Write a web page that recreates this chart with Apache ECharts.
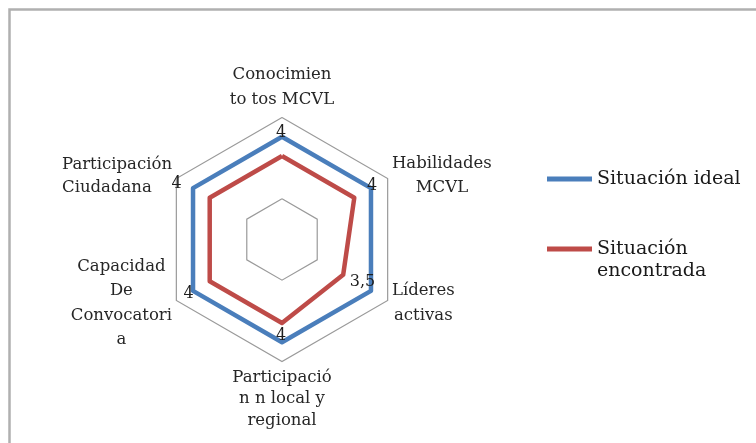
<!DOCTYPE html>
<html>
<head>
<meta charset="utf-8">
<script src="https://cdn.jsdelivr.net/npm/echarts@6/dist/echarts.min.js"></script>
<style>
html,body{margin:0;padding:0;background:#fff;}
#c{width:756px;height:443px;}
</style>
</head>
<body>
<div id="c"></div>
<script>
// Data (clockwise order, starting at the top)
const categories = ['Conocimien\nto tos MCVL', 'Habilidades\nMCVL', 'Líderes\nactivas', 'Participació\nn n local y\nregional', 'Capacidad\nDe\nConvocatori\na', 'Participación\nCiudadana'];
const seriesNames = ['Situación ideal', 'Situación encontrada'];
const idealValues = [4, 4, 4, 4, 4, 4];
const encontradaValues = [3.7, 3.7, 3.5, 3.7, 3.7, 3.7];
const valueLabels = ['4', '4', '3,5', '4', '4', '4'];
const axisMin = 2.4;
const axisMax = 4.3;

// ECharts radar runs counter-clockwise: reorder
const ord = [0, 5, 4, 3, 2, 1];
const pick = arr => ord.map(i => arr[i]);

const nameStyleKey = ['t', 'h', 'l', 'b', 'k', 'p'];
const font = 'DejaVu Serif';
const nameColor = '#262626';
const fs = 16.5;
const richName = {
  t: {align: 'center', fontFamily: font, fontSize: fs, lineHeight: 25, color: nameColor},
  h: {align: 'center', fontFamily: font, fontSize: fs, lineHeight: 24, color: nameColor},
  l: {align: 'center', fontFamily: font, fontSize: fs, lineHeight: 25, color: nameColor},
  b: {align: 'center', fontFamily: font, fontSize: fs, lineHeight: 21.5, color: nameColor},
  k: {align: 'center', fontFamily: font, fontSize: fs, lineHeight: 24.5, color: nameColor},
  p: {align: 'left', fontFamily: font, fontSize: fs, lineHeight: 23, color: nameColor}
};

// label shifts (per original index) as rich paddings
const labelPad = [[0, 2, 8, 0], [0, 0, 4, 2], [0, 17, 18, 0], [0, 2, 12, 0], [6, 9, 0, 0], [0, 33, 8, 0]];
const richLabel = {};
pick(labelPad).forEach((p, i) => {
  richLabel['d' + i] = {padding: p, fontFamily: font, fontSize: 16, color: '#1e1e1e'};
});
const labelsOrdered = pick(valueLabels);

const indicators = pick(categories).map(n => ({name: n, min: axisMin, max: axisMax}));

const chart = echarts.init(document.getElementById('c'));
chart.setOption({
  backgroundColor: '#fff',
  animation: false,
  graphic: [{
    type: 'rect', left: 7, top: 7, z: 100,
    shape: {x: 0, y: 0, width: 800, height: 500},
    style: {fill: 'none', stroke: '#b0b0b0', lineWidth: 2.5}
  }],
  legend: {
    orient: 'vertical', left: 547, top: 168, padding: 0, itemGap: 26,
    itemWidth: 45, itemHeight: 5, icon: 'rect', itemStyle: {borderWidth: 0},
    textStyle: {fontFamily: font, fontSize: 19, lineHeight: 22, color: '#1a1a1a'},
    data: [seriesNames[0], seriesNames[1]],
    formatter: n => n === seriesNames[1] ? '\nSituación\nencontrada' : n
  },
  radar: {
    center: [282, 239.5],
    radius: 122,
    splitNumber: 3,
    nameGap: 5,
    shape: 'polygon',
    indicator: indicators,
    axisName: {
      formatter: (name) => {
        const k = nameStyleKey[categories.indexOf(name)];
        return name.split('\n').map(s => '{' + k + '|' + s + '}').join('\n');
      },
      rich: richName
    },
    axisLine: {show: false},
    axisTick: {show: false},
    axisLabel: {show: false},
    splitArea: {show: false},
    splitLine: {lineStyle: {color: ['#9a9a9a', '#9a9a9a', 'rgba(0,0,0,0)', '#9a9a9a'], width: 1.2}}
  },
  series: [{
    type: 'radar',
    z: 3,
    symbol: 'circle',
    symbolSize: 1,
    data: [
      {
        name: seriesNames[0],
        value: pick(idealValues),
        itemStyle: {color: '#4a7ebb'},
        lineStyle: {color: '#4a7ebb', width: 4.5},
        label: {
          show: true, position: 'inside',
          formatter: p => '{d' + p.dimensionIndex + '|' + labelsOrdered[p.dimensionIndex] + '}',
          rich: richLabel
        }
      },
      {
        name: seriesNames[1],
        value: pick(encontradaValues),
        itemStyle: {color: '#be4b48'},
        lineStyle: {color: '#be4b48', width: 4.5}
      }
    ]
  }]
});
</script>
</body>
</html>
